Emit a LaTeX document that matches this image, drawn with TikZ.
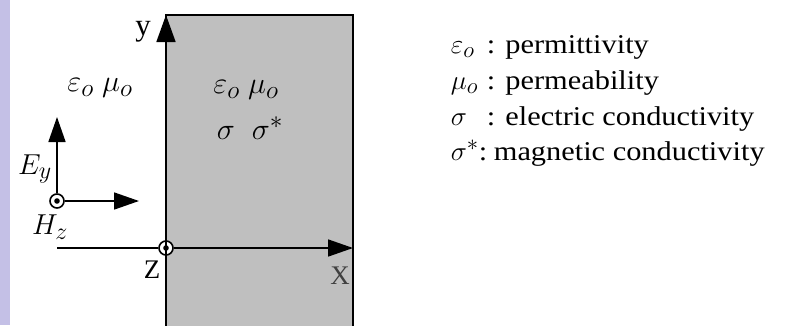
\documentclass[tikz,border=0pt]{standalone}
\usepackage{fontspec}
\setmainfont{Liberation Serif}
\newfontfamily\legfont[FakeStretch=1.12]{Liberation Serif}
\usetikzlibrary{arrows.meta, positioning}
\definecolor{slidebar}{RGB}{196,192,230}

\begin{document}
\begin{tikzpicture}[x=1pt, y=-1pt, line width=1.6pt,
    >={Triangle[length=25pt, width=17pt]},
    dotnode/.style={circle, draw, fill=white, inner sep=0pt, minimum size=14pt, line width=1.6pt,
        path picture={\fill[black] (path picture bounding box.center) circle (2.8pt);}},
    lbl/.style={inner sep=0pt, font=\Huge, scale=1.08},
    sym/.style={inner sep=0pt, font=\Huge, scale=1.22},
    leg/.style={inner sep=0pt, anchor=base west, font=\legfont\Huge, scale=1.09}]
    \useasboundingbox (0,0) rectangle (787,325);
    \clip (0,0) rectangle (787,325);
    \fill[slidebar] (0,0) rectangle (10,325);

    % lossy region
    \draw[fill=black!25] (166,15) rectangle (353,340);

    \node[dotnode] (zo) at (166,248) {};
    \node[dotnode] (hz) at (57,201) {};
    \coordinate (ytop) at (166,15);
    \coordinate (ybot) at (166,330);
    \coordinate (xbeg) at (57,248);
    \coordinate (xend) at (353,248);
    \coordinate (eyend) at (57,117);
    \coordinate (exend) at (139,201);

    \draw[->, >={Triangle[length=27pt, width=19pt]}] (ybot) -- (ytop);
    \draw (xbeg) -- (zo);
    \draw[->] (zo) -- (xend);
    \draw[->] (hz) -- (eyend);
    \draw[->] (hz) -- (exend);

    \node[lbl, scale=1.15] (ylab) at (143,32) {y};
    \node[lbl, scale=1.0] (zlab) at (152,270) {Z};
    \node[lbl, scale=1.0, text=black!75] (xlab) at (340,276) {X};
    \node[sym, scale=0.95] (eylab) at (35,169) {$E_{y}$};
    \node[sym, scale=0.95] (hzlab) at (50,227) {$H_{z}$};

    \node[sym] (free) at (100,88) {$\varepsilon_{o}\;\mu_{o}$};
    \node[sym] (lossa) at (246,90) {$\varepsilon_{o}\;\mu_{o}$};
    \node[sym] (lossb) at (250,128) {$\sigma\;\;\sigma^{*}$};

    % legend
    \node[leg] (keps) at (450,53) {$\varepsilon_{o}$};
    \node[leg] (kmu) at (450,89) {$\mu_{o}$};
    \node[leg] (ksig) at (450,125) {$\sigma$};
    \node[leg] (ksigs) at (450,160) {$\sigma^{*}$:};
    \node[leg] (teps) at (486,53) {: permittivity};
    \node[leg] (tmu) at (486,89) {: permeability};
    \node[leg] (tsig) at (486,125) {: electric conductivity};
    \node[leg] (tsigs) at (493,160) {magnetic conductivity};
\end{tikzpicture}
\end{document}
